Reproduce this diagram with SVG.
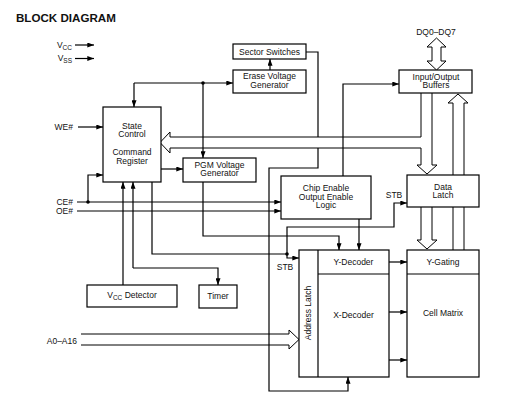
<svg xmlns="http://www.w3.org/2000/svg" width="511" height="415" viewBox="0 0 511 415">
<defs>
<marker id="a" viewBox="0 0 8 6" refX="8" refY="3" markerWidth="7" markerHeight="5" orient="auto" markerUnits="userSpaceOnUse"><path d="M0,0 L8,3 L0,6 z" fill="#000"/></marker>
</defs>
<style>
.t{font-family:"Liberation Sans",Arial,sans-serif;font-size:8.5px;fill:#111;text-anchor:middle}
.l{font-family:"Liberation Sans",Arial,sans-serif;font-size:8.5px;fill:#111;text-anchor:end}
.b{fill:#fff;stroke:#000;stroke-width:1.2}
.w{fill:none;stroke:#000;stroke-width:1.2}
.h{fill:#fff;stroke:#000;stroke-width:1}
.ar{marker-end:url(#a)}
.d{fill:#000}
</style>
<rect width="511" height="415" fill="#fff"/>
<text x="16" y="22" style="font-family:'Liberation Sans',Arial,sans-serif;font-size:11.6px;font-weight:bold;fill:#111">BLOCK DIAGRAM</text>

<g id="connectors">
<path class="w ar" d="M75,45 H94"/>
<path class="w ar" d="M75,58.5 H94"/>
<path class="w ar" d="M78,127 H103"/>
<path class="w ar" d="M77,202 H281"/>
<path class="w ar" d="M77,211 H281"/>
<path class="w ar" d="M88,202 V175 H103"/>
<circle class="d" cx="88" cy="202" r="1.8"/>
<path class="w ar" d="M134,83 V107"/>
<path class="w ar" d="M134,83 H233"/>
<path class="w ar" d="M203,83 V158"/>
<circle class="d" cx="203" cy="83" r="1.8"/>
<path class="w ar" d="M270,70 V59"/>
<path class="w ar" d="M161,169 H183"/>
<path class="w" d="M306,52 H318 V137"/>
<path class="w ar" d="M343,176 V84 H399"/>
<path class="h" style="fill:none" d="M421,93 V137 H170 V132 L160,142.5 L170,153 V148 H421 V165 H417 L427,174 L437,165 H432 V93"/>
<path class="h" d="M436.5,38 L446,47 H441 V61 H446 L436.5,70 L427,61 H432 V47 H427 Z"/>
<path class="h" style="fill:none" d="M453,250 V103 H448 L458,94 L468,103 H464 V250"/>
<path class="h" style="fill:none" d="M421,207 V240 H417 L427,249 L437,240 H432 V207"/>
<path class="w ar" d="M318,148 V168 H269 V391 H348 V377"/>
<path class="w ar" d="M123,285 V182"/>
<path class="w ar" d="M133,268 V182"/>
<path class="w ar" d="M133,268 H218 V285"/>
<path class="w" d="M152,182 V254 H287"/>
<path class="w ar" d="M203,182 V236 H339 V250"/>
<path class="w ar" d="M359,219 V250"/>
<path class="w ar" d="M287,254 V227 H394 V203 H407"/>
<circle class="d" cx="287" cy="254" r="1.8"/>
<path class="w ar" d="M287,254 V258 H299"/>
<path class="w ar" d="M389,262 H407"/>
<path class="w ar" d="M389,312 H407"/>
<path class="w ar" d="M389,360 H407"/>
<path class="h" style="fill:none" d="M81,334 H289 V330 L299,339.5 L289,349 V345 H81"/>
</g>

<g id="labels">
<text class="l" x="72" y="48">V<tspan font-size="6.5" dy="2">CC</tspan></text>
<text class="l" x="72" y="61">V<tspan font-size="6.5" dy="2">SS</tspan></text>
<text class="l" x="73" y="130">WE#</text>
<text class="l" x="73" y="205">CE#</text>
<text class="l" x="73" y="214">OE#</text>
<text class="l" x="77" y="344">A0–A16</text>
<text class="t" x="436" y="35">DQ0–DQ7</text>
<text class="t" x="394" y="198">STB</text>
<text class="t" x="285" y="270">STB</text>
</g>

<g id="sector-switches">
<rect class="b" x="233" y="44" width="73" height="15"/>
<text class="t" x="269.5" y="55">Sector Switches</text>
</g>
<g id="erase-voltage-generator">
<rect class="b" x="233" y="70" width="73" height="23"/>
<text class="t" x="269.5" y="79">Erase Voltage</text>
<text class="t" x="269.5" y="87.5">Generator</text>
</g>
<g id="io-buffers">
<rect class="b" x="399" y="70" width="73" height="23"/>
<text class="t" x="436" y="79.5">Input/Output</text>
<text class="t" x="436" y="88">Buffers</text>
</g>
<g id="state-control">
<rect class="b" x="103" y="107" width="58" height="75"/>
<text class="t" x="132" y="128.5">State</text>
<text class="t" x="132" y="137">Control</text>
<text class="t" x="132" y="155">Command</text>
<text class="t" x="132" y="164">Register</text>
</g>
<g id="pgm-voltage-generator">
<rect class="b" x="183" y="158" width="73" height="24"/>
<text class="t" x="219.5" y="167.5">PGM Voltage</text>
<text class="t" x="219.5" y="176">Generator</text>
</g>
<g id="chip-enable-logic">
<rect class="b" x="281" y="176" width="90" height="43"/>
<text class="t" x="326" y="191">Chip Enable</text>
<text class="t" x="326" y="199.5">Output Enable</text>
<text class="t" x="326" y="208">Logic</text>
</g>
<g id="data-latch">
<rect class="b" x="407" y="175" width="72" height="32"/>
<text class="t" x="443" y="189.5">Data</text>
<text class="t" x="443" y="198">Latch</text>
</g>
<g id="vcc-detector">
<rect class="b" x="87" y="285" width="90" height="22"/>
<text class="t" x="132" y="298">V<tspan font-size="6.5" dy="2">CC</tspan><tspan dy="-2"> Detector</tspan></text>
</g>
<g id="timer">
<rect class="b" x="199" y="285" width="38" height="23"/>
<text class="t" x="218" y="299">Timer</text>
</g>
<g id="address-decoder">
<rect class="b" x="299" y="250" width="90" height="127"/>
<path class="w" d="M318,250 V377 M318,274 H389"/>
<text class="t" x="353.5" y="265">Y-Decoder</text>
<text class="t" x="353.5" y="318">X-Decoder</text>
<text class="t" transform="translate(311,313) rotate(-90)">Address Latch</text>
</g>
<g id="cell-matrix">
<rect class="b" x="407" y="250" width="72" height="127"/>
<path class="w" d="M407,274 H479"/>
<text class="t" x="443" y="265">Y-Gating</text>
<text class="t" x="443" y="316">Cell Matrix</text>
</g>
</svg>
